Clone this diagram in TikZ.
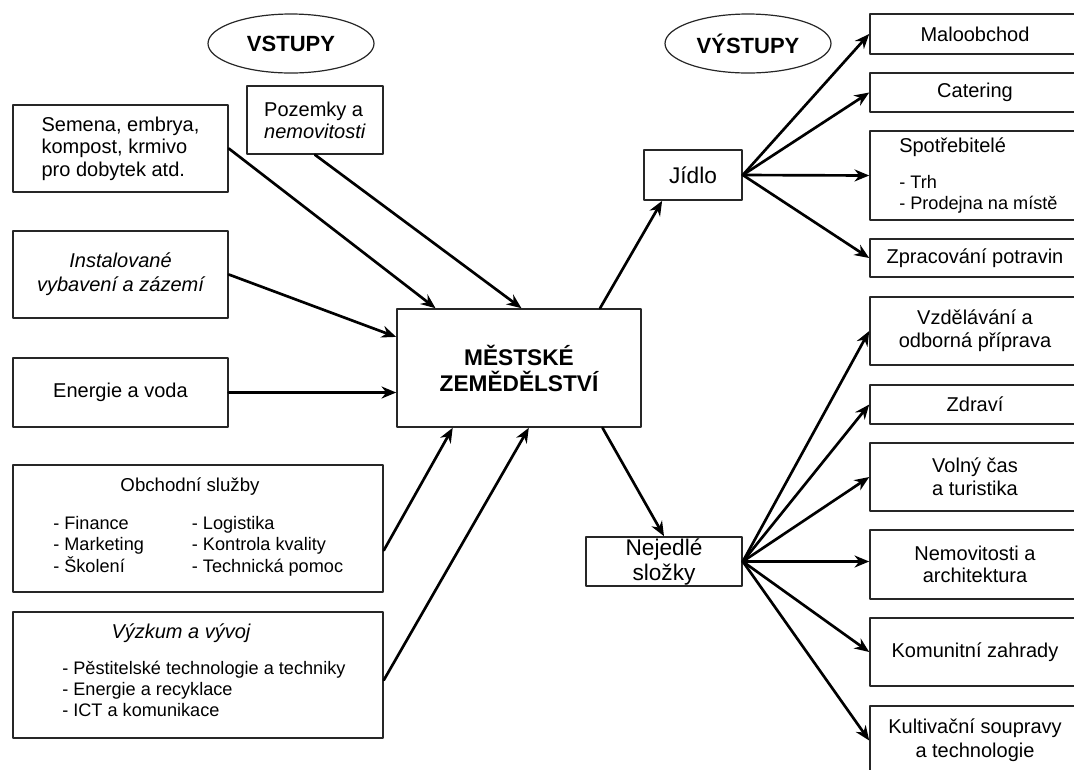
\documentclass[tikz,border=0pt]{standalone}
\usepackage{fontspec}
\setmainfont{Liberation Sans}
\usepackage{tikz}
\usetikzlibrary{calc,arrows.meta,shapes.geometric}
\tikzset{
  box/.style={draw=black!85,line width=1.2pt,inner sep=0pt,align=center,
    font=\fontsize{15}{17}\selectfont},
  sz/.style 2 args={minimum width=#1*0.75pt,minimum height=#2*0.75pt},
  oval/.style={ellipse,draw=black!85,line width=0.9pt,inner sep=0pt,
    font=\bfseries\fontsize{16.5}{18}\selectfont},
  txt/.style={inner sep=0pt,font=\fontsize{15}{17}\selectfont},
  item/.style={align=left,inner sep=0pt,font=\fontsize{13.6}{15.75}\selectfont},
  arr/.style={-{Stealth[length=11pt,width=9pt]},line width=2pt}
}

\begin{document}
\begin{tikzpicture}[x=0.75pt,y=-0.75pt,line cap=round,line join=round]
  % --- Window ---
  \useasboundingbox (0,0) rectangle (1074,769);
  \clip (0,0) rectangle (1074,769);

  % --- Headings ---
  \node[oval,sz={166}{59}] (vstupy) at (291,43.5) {VSTUPY};
  \node[oval,sz={166}{59}] (vystupy) at (748,43.5) {VÝSTUPY};

  % --- Inputs ---
  \node[box,sz={215}{87},align=left,font=\fontsize{15}{16.9}\selectfont] (semena) at (120.5,148.5)
    {Semena, embrya,\\kompost, krmivo\\pro dobytek atd.};
  \node[box,sz={136}{68},align=left,font=\fontsize{15}{16.5}\selectfont] (pozemky) at (315,120)
    {Pozemky a\\\textit{nemovitosti}};
  \node[box,sz={215}{87},font=\itshape\fontsize{15}{18}\selectfont] (instal) at (120.5,274.5)
    {Instalované\\vybavení a zázemí};
  \node[box,sz={215}{69}] (energie) at (120.5,392.5) {Energie a voda};

  \node[box,sz={370}{127}] (obchod) at (198,528.5) {};
  \node[txt,font=\fontsize{14}{16}\selectfont] (obchodT) at (190,487) {Obchodní služby};
  \node[item,anchor=west] (obchodA) at (53,547)
    {\begin{tabular}{@{}p{104pt}@{}l@{}}
      - Finance   & - Logistika\\
      - Marketing & - Kontrola kvality\\
      - Školení   & - Technická pomoc
    \end{tabular}};

  \node[box,sz={370}{126}] (vyzkum) at (198,675) {};
  \node[txt,font=\itshape\fontsize{15}{17}\selectfont] (vyzkumT) at (181,633) {Výzkum a vývoj};
  \node[item,anchor=west] (vyzkumA) at (62,689)
    {- Pěstitelské technologie a techniky\\- Energie a recyklace\\- ICT a komunikace};

  % --- Centre ---
  \node[box,sz={244}{118},font=\bfseries\fontsize{17}{19.5}\selectfont] (mesto) at (519,368)
    {MĚSTSKÉ\\ZEMĚDĚLSTVÍ};

  % --- Outputs ---
  \node[box,sz={98}{50},font=\fontsize{17}{19}\selectfont] (jidlo) at (693,175) {Jídlo};
  \node[box,sz={156}{49},font=\fontsize{17}{18.75}\selectfont] (nejedle) at (664,561.5) {Nejedlé\\složky};

  \node[box,sz={210}{40}] (malo) at (975,34) {Maloobchod};
  \node[box,sz={210}{39}] (catering) at (975,92.5) {Catering};
  \node[box,sz={210}{89}] (spotreb) at (975,175.5) {};
  \node[txt,anchor=west] (spotrebT) at (899,147) {Spotřebitelé};
  \node[item,anchor=west] (spotrebA) at (899,194) {- Trh\\- Prodejna na místě};
  \node[box,sz={210}{38}] (zprac) at (975,258) {Zpracování potravin};

  \node[box,sz={210}{68}] (vzdel) at (975,331) {Vzdělávání a\\odborná příprava};
  \node[box,sz={210}{39}] (zdravi) at (975,404.5) {Zdraví};
  \node[box,sz={210}{68}] (volny) at (975,477) {Volný čas\\a turistika};
  \node[box,sz={210}{69}] (nemov) at (975,564.5) {Nemovitosti a\\architektura};
  \node[box,sz={210}{68}] (komun) at (975,652) {Komunitní zahrady};
  \node[box,sz={210}{69},font=\fontsize{15}{18}\selectfont] (kultiv) at (975,740.5)
    {Kultivační soupravy\\a technologie};

  % --- Arrows into the centre ---
  \draw[arr] (semena.east) -- ($(mesto.north west)!0.16!(mesto.north east)$);
  \draw[arr] (pozemky.south) -- ($(mesto.north west)!0.51!(mesto.north east)$);
  \draw[arr] (instal.east) -- ($(mesto.north west)!0.24!(mesto.south west)$);
  \draw[arr] (energie.east) -- (energie.east -| mesto.west);
  \draw[arr] ($(obchod.north east)!0.67!(obchod.south east)$) -- ($(mesto.south west)!0.23!(mesto.south east)$);
  \draw[arr] ($(vyzkum.north east)!0.54!(vyzkum.south east)$) -- ($(mesto.south west)!0.54!(mesto.south east)$);

  % --- Arrows out of the centre ---
  \draw[arr] ($(mesto.north west)!0.83!(mesto.north east)$) -- ($(jidlo.south west)!0.19!(jidlo.south east)$);
  \draw[arr] ($(mesto.south west)!0.84!(mesto.south east)$) -- (nejedle.north);

  \foreach \t in {malo,catering,spotreb,zprac}
    \draw[arr] (jidlo.east) -- (\t.west);
  \foreach \t in {vzdel,zdravi,volny,komun,kultiv}
    \draw[arr] (nejedle.east) -- (\t.west);
  \draw[arr] (nejedle.east) -- (nejedle.east -| nemov.west);
\end{tikzpicture}
\end{document}
